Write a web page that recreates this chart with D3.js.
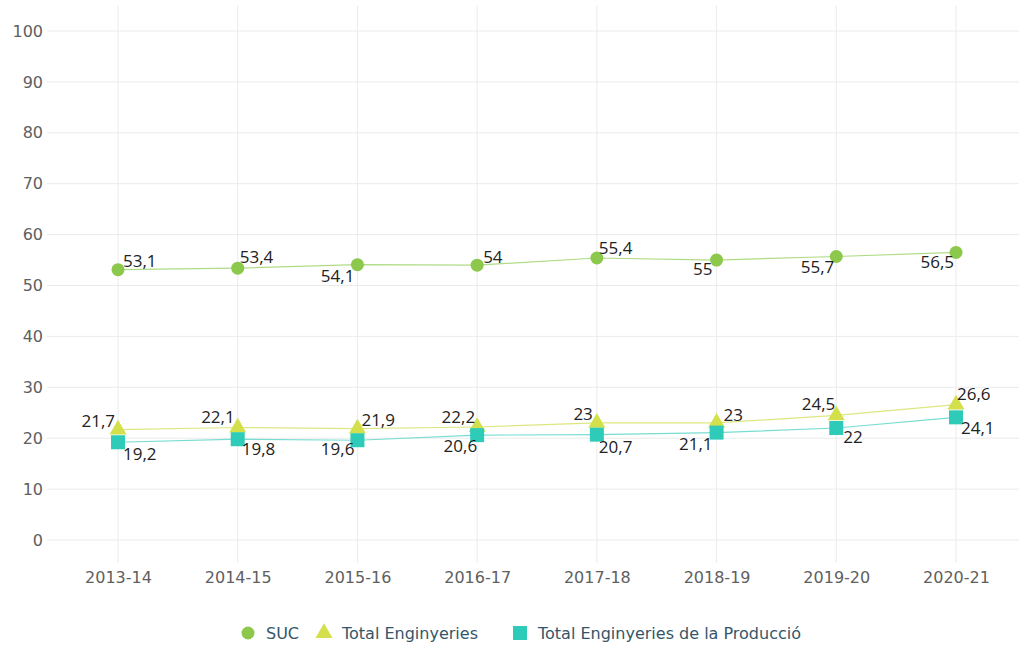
<!DOCTYPE html>
<html><head><meta charset="utf-8">
<script src="https://cdn.jsdelivr.net/npm/d3@7"></script>
<style>
html,body{margin:0;padding:0;background:#fff;}
svg{display:block;font-family:"Open Sans",sans-serif;}
</style></head>
<body><svg id="c" width="1019" height="646"></svg>
<script>
const categories = ["2013-14","2014-15","2015-16","2016-17","2017-18","2018-19","2019-20","2020-21"];
const sucValues = [53.1,53.4,54.1,54,55.4,55,55.7,56.5];
const engValues = [21.7,22.1,21.9,22.2,23,23,24.5,26.6];
const prodValues = [19.2,19.8,19.6,20.6,20.7,21.1,22,24.1];
const yTicks = [0,10,20,30,40,50,60,70,80,90,100];
const seriesNames = ["SUC","Total Enginyeries","Total Enginyeries de la Producció"];

// label placement: [dx, dy, anchor]
const sucLabelPos = [[5,-3,"start"],[2,-5,"start"],[-3,17,"end"],[6,-2,"start"],[2,-4,"start"],[-4,15,"end"],[-2,17,"end"],[-2,16,"end"]];
const engLabelPos = [[-3,-3,"end"],[-3,-5,"end"],[4,-3,"start"],[-2,-4,"end"],[-4,-3,"end"],[7,-2,"start"],[-1,-5,"end"],[1,-5,"start"]];
const prodLabelPos = [[5,18,"start"],[4,16,"start"],[-3,15,"end"],[0,17,"end"],[2,18,"start"],[-4,17,"end"],[7,15,"start"],[5,17,"start"]];

const axisFont = "DejaVu Sans, sans-serif";
const svg = d3.select("#c");
const x = d3.scalePoint().domain(categories).range([118,956]);
const y = d3.scaleLinear().domain([0,100]).range([540,31]);

// grid
const g = svg.append("g");
g.selectAll("line.h").data(yTicks).join("line")
  .attr("x1",47).attr("x2",1019)
  .attr("y1",d=>y(d)).attr("y2",d=>y(d))
  .attr("stroke","#ebebeb").attr("stroke-width",1);
g.selectAll("line.v").data(categories).join("line")
  .attr("x1",d=>x(d)).attr("x2",d=>x(d))
  .attr("y1",y(105)).attr("y2",y(-4.5))
  .attr("stroke","#ebebeb").attr("stroke-width",1);

// axes
const yAxis = svg.append("g").attr("transform","translate(47,0)")
  .call(d3.axisLeft(y).tickValues(yTicks).tickSize(0).tickPadding(4));
yAxis.select(".domain").remove();
yAxis.selectAll("text").attr("font-size",16).attr("fill","#606060").attr("font-family",axisFont);

const xAxis = svg.append("g").attr("transform","translate(0,567)")
  .call(d3.axisBottom(x).tickSize(0).tickPadding(5));
xAxis.select(".domain").remove();
xAxis.selectAll("text").attr("font-size",16).attr("fill","#606060").attr("font-family",axisFont);

const series = [
  {name:seriesNames[0], values:sucValues, color:"#8cc84b", line:"#b0db85", shape:"circle", lp:sucLabelPos},
  {name:seriesNames[1], values:engValues, color:"#d3e04b", line:"#dde782", shape:"triangle", lp:engLabelPos},
  {name:seriesNames[2], values:prodValues, color:"#2ecbb8", line:"#78ddd1", shape:"square", lp:prodLabelPos}
];

const line = d3.line().x((d,i)=>x(categories[i])).y(d=>y(d));
series.forEach(s=>{
  svg.append("path").datum(s.values).attr("d",line)
    .attr("fill","none").attr("stroke",s.line).attr("stroke-width",1.2);
});

function drawMarker(sel, shape, color, cx, cy){
  if(shape==="circle"){
    sel.append("circle").attr("cx",cx).attr("cy",cy).attr("r",6.5).attr("fill",color);
  } else if(shape==="triangle"){
    sel.append("path").attr("d",d3.symbol().type(d3.symbolTriangle).size(125)())
      .attr("transform",`translate(${cx},${cy})`).attr("fill",color);
  } else {
    sel.append("rect").attr("x",cx-7).attr("y",cy-7).attr("width",14).attr("height",14).attr("fill",color);
  }
}

series.forEach(s=>{
  const mg = svg.append("g");
  s.values.forEach((v,i)=>drawMarker(mg, s.shape, s.color, x(categories[i]), y(v)));
});

const fmt = v => String(v).replace(".",",");
series.forEach(s=>{
  svg.append("g").selectAll("text").data(s.values).join("text")
    .attr("x",(d,i)=>x(categories[i])+s.lp[i][0])
    .attr("y",(d,i)=>y(d)+s.lp[i][1])
    .attr("text-anchor",(d,i)=>s.lp[i][2])
    .attr("font-size",17).attr("fill","#222")
    .text(fmt);
});

// legend
const legendX = [248,324,520];
const lg = svg.append("g");
series.forEach((s,i)=>{
  drawMarker(lg, s.shape, s.color, legendX[i], 633);
  lg.append("text").attr("x",legendX[i]+18).attr("y",633).attr("dy","0.35em")
    .attr("font-size",16).attr("font-family",axisFont).attr("fill","#34566a").text(s.name);
});
</script></body></html>
